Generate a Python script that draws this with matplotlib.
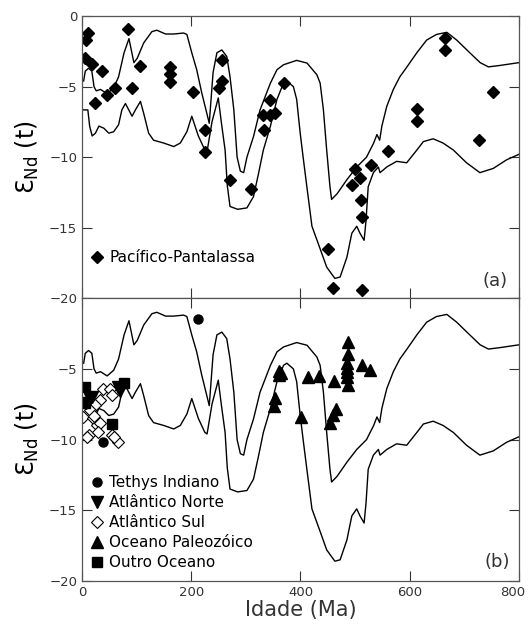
import matplotlib
matplotlib.use("Agg")
import matplotlib.pyplot as plt
import matplotlib.transforms as mtransforms
from matplotlib.lines import Line2D

# envelope curves (same band in both panels)
upper_x = [3, 6, 12, 18, 22, 26, 34, 46, 58, 67, 77, 86, 95, 101, 113, 128, 137, 153, 168, 186, 192,
           201, 210, 219, 226, 233, 240, 247, 256, 265, 271, 278, 284, 290, 296, 302, 314, 326, 345,
           357, 369, 393, 412, 430, 436, 442, 448, 454, 457, 467, 485, 503, 521, 534, 540, 545, 549,
           558, 570, 582, 595, 613, 631, 649, 668, 686, 710, 729, 744, 765, 800]
upper_y = [-4.6, -3.9, -3.7, -3.9, -5.0, -5.3, -5.2, -5.5, -5.1, -4.3, -2.6, -1.6, -3.3, -3.0, -1.9,
           -1.1, -1.0, -1.27, -1.27, -1.2, -1.3, -2.6, -3.8, -5.4, -6.5, -7.6, -4.0, -2.6, -2.4, -2.86,
           -4.3, -6.65, -10.0, -11.0, -11.1, -10.0, -8.54, -6.65, -4.75, -3.8, -3.45, -3.14, -3.33,
           -4.16, -4.75, -6.65, -9.5, -12.1, -13.0, -12.6, -11.6, -10.7, -10.0, -9.0, -8.4, -8.8, -7.8,
           -6.4, -5.2, -4.3, -3.6, -2.6, -1.7, -1.3, -1.15, -1.7, -2.6, -3.3, -3.6, -3.5, -3.3]

lower_x = [0, 10.7, 14, 18.6, 24.6, 31, 40, 49, 58, 67, 73, 79.5, 85.6, 91.7, 97.8, 107, 113, 122,
           131, 149.5, 168, 180, 192, 201, 213, 225, 229, 238, 249.5, 255, 262, 266, 271, 285, 302,
           314, 323, 332, 345, 357, 369, 375, 387, 393, 399.5, 405.5, 411.7, 421, 436, 448, 463,
           472.6, 485, 494, 503, 509, 516.5, 520, 524, 533.5, 542.6, 545.7, 558, 576, 594.5, 613,
           625, 643, 661, 680, 704, 728.5, 753, 777, 800]
lower_y = [-6.65, -6.65, -7.8, -8.5, -8.3, -7.8, -7.95, -8.3, -8.2, -7.7, -6.65, -6.2, -6.65, -7.1,
           -6.65, -6.05, -6.9, -8.3, -8.8, -9.0, -9.25, -9.0, -8.2, -7.1, -8.5, -9.5, -9.6, -7.5,
           -5.8, -7.5, -9.5, -12.0, -13.5, -13.7, -13.6, -12.8, -11.2, -9.5, -7.8, -5.9, -4.75, -4.6,
           -5.0, -5.9, -8.3, -10.2, -12.1, -14.9, -16.5, -17.8, -18.6, -18.5, -17.1, -15.4, -14.9,
           -15.4, -15.9, -14.5, -12.1, -11.1, -10.7, -11.1, -10.7, -10.3, -10.4, -9.5, -8.9, -8.7,
           -9.0, -9.5, -10.4, -11.1, -10.8, -10.2, -9.8]

# (a) Pacifico-Pantalassa
pac_age = [10.7, 8.2, 6.4, 18.6, 37, 23.4, 46, 61, 84.4, 91.7, 107, 161.8, 161.8, 161.8, 203,
           225.8, 225.8, 256.3, 250, 256, 271.5, 309, 344.6, 332, 353.7, 344.6, 332.4, 370, 451,
           460.4, 513.4, 500, 509, 494, 510.4, 513.4, 529, 561, 612.7, 612.7, 664.5, 664.5, 752.8,
           726.7]
pac_eps = [-1.2, -1.67, -2.97, -3.38, -3.87, -6.17, -5.58, -5.1, -0.91, -5.1, -3.52, -3.61, -4.09,
           -4.7, -5.41, -8.07, -9.65, -3.09, -5.1, -4.63, -11.6, -12.26, -5.93, -7.0, -6.88, -7.0,
           -8.07, -4.75, -16.55, -19.25, -19.39, -10.86, -11.5, -11.98, -13.04, -14.23, -10.55,
           -9.6, -6.6, -7.47, -1.55, -2.38, -5.41, -8.82]

# (b)
tethys_age = [211.7, 38.7]
tethys_eps = [-1.44, -10.15]

norte_age = [15.5, 18, 66.7, 70, 8]
norte_eps = [-7.1, -7.0, -6.3, -6.6, -7.4]

sul_age = [39.3, 51.5, 54.5, 33, 24, 15, 2.7, 21, 27, 33, 12, 30, 54.5, 65.5, 9.5, 58, 22]
sul_eps = [-6.43, -6.4, -6.86, -7.2, -7.56, -7.9, -8.4, -8.5, -9.0, -8.85, -9.7, -9.45, -9.7,
           -10.2, -9.8, -9.8, -8.3]

paleo_age = [487.8, 487.8, 486, 486, 486, 486, 487.8, 512, 527, 461.6, 414.6, 434.7, 361, 360, 365,
             353.7, 352, 400.7, 465, 460, 454]
paleo_eps = [-3.09, -3.96, -4.6, -4.97, -5.2, -5.56, -6.15, -4.7, -5.09, -5.87, -5.56, -5.5, -5.16,
             -5.44, -5.3, -7.09, -7.6, -8.39, -7.84, -8.27, -8.86]

outro_age = [4.6, 4.6, 54.5, 76]
outro_eps = [-6.3, -7.4, -8.9, -6.03]

fig = plt.figure(figsize=(5.29, 6.29), dpi=100)
ax1 = fig.add_axes([0.155, 0.526, 0.826, 0.4484])
ax2 = fig.add_axes([0.155, 0.0763, 0.826, 0.4497])

for ax in (ax1, ax2):
    ax.plot(upper_x, upper_y, color='black', lw=1.0)
    ax.plot(lower_x, lower_y, color='black', lw=1.0)
    ax.set_xlim(0, 800)
    ax.set_ylim(-20, 0)
    ax.set_xticks([0, 200, 400, 600, 800])
    ax.tick_params(direction='in', length=7, width=0.8, top=True, right=True,
                   labelsize=9.5, colors='#333333')
    for sp in ax.spines.values():
        sp.set_color('#555555')
        sp.set_linewidth(0.9)
    ax.set_ylabel('Ɛ$_{\\mathrm{Nd}}$ (t)', fontsize=17, labelpad=6)

ax1.set_yticks([-20, -15, -10, -5, 0])
ax1.tick_params(labelbottom=False)
ax2.set_yticks([-20, -15, -10, -5])

# nudge the "800" label so it stays inside the figure
last = ax2.get_xticklabels()[-1]
last.set_transform(last.get_transform() + mtransforms.ScaledTranslation(-6 / 100, 0, fig.dpi_scale_trans))

ax1.plot(pac_age, pac_eps, 'D', color='black', ms=6.5, ls='none')

ax2.plot(tethys_age, tethys_eps, 'o', color='black', ms=6.5, ls='none')
ax2.plot(sul_age, sul_eps, 'D', mfc='white', mec='black', mew=0.8, ms=6, ls='none')
ax2.plot(norte_age, norte_eps, 'v', color='black', ms=8.5, ls='none')
ax2.plot(paleo_age, paleo_eps, '^', color='black', ms=8.5, ls='none')
ax2.plot(outro_age, outro_eps, 's', color='black', ms=6.5, ls='none')

h1 = [Line2D([], [], marker='D', color='black', ls='none', ms=6.5)]
ax1.legend(h1, ['Pacífico-Pantalassa'], loc='lower left', bbox_to_anchor=(0.0, 0.085),
           frameon=False, fontsize=11, handlelength=0.8, handletextpad=0.4, borderaxespad=0.2)

h2 = [Line2D([], [], marker='o', color='black', ls='none', ms=6.5),
      Line2D([], [], marker='v', color='black', ls='none', ms=8.5),
      Line2D([], [], marker='D', mfc='white', mec='black', mew=0.8, ls='none', ms=6),
      Line2D([], [], marker='^', color='black', ls='none', ms=8.5),
      Line2D([], [], marker='s', color='black', ls='none', ms=6.5)]
ax2.legend(h2, ['Tethys Indiano', 'Atlântico Norte', 'Atlântico Sul', 'Oceano Paleozóico',
                'Outro Oceano'], loc='lower left', bbox_to_anchor=(0.0, 0.005),
           frameon=False, fontsize=11, handlelength=0.8, handletextpad=0.4,
           labelspacing=0.33, borderaxespad=0.2)

ax1.text(0.975, 0.03, '(a)', transform=ax1.transAxes, ha='right', va='bottom', fontsize=13,
         color='#333333')
ax2.text(0.98, 0.035, '(b)', transform=ax2.transAxes, ha='right', va='bottom', fontsize=13,
         color='#333333')

ax2.set_xlabel('Idade (Ma)', fontsize=15, labelpad=1, color='#333333')

fig.savefig('out.png', dpi=100)
